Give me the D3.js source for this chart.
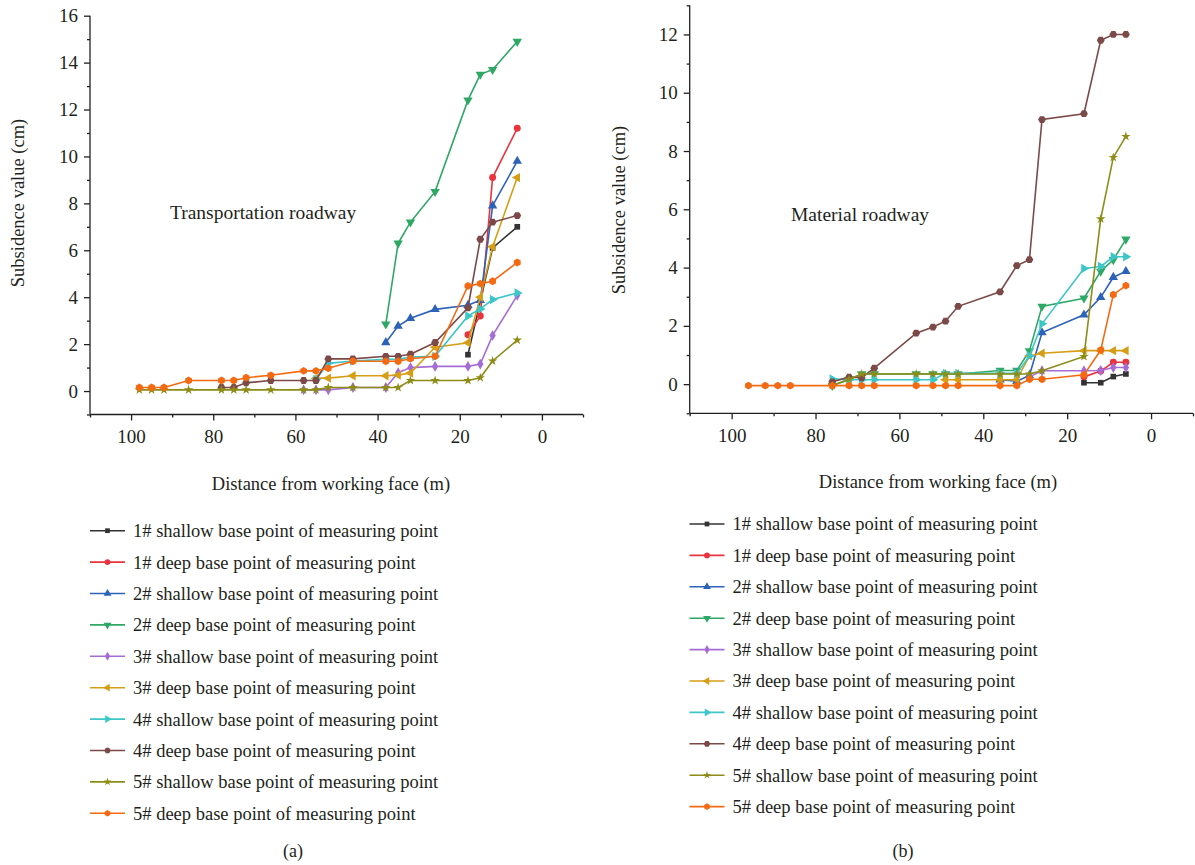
<!DOCTYPE html>
<html>
<head>
<meta charset="utf-8">
<script src="https://cdn.jsdelivr.net/npm/d3@7"></script>
<style>
  body { margin: 0; background: white; }
  text { font-family: 'Liberation Serif', 'DejaVu Serif', serif; fill: #231f20; }
</style>
</head>
<body>
<div id="vis"></div>
<script>
// series names, shared by both panels
let seriesNames = [
  '1# shallow base point of measuring point',
  '1# deep base point of measuring point',
  '2# shallow base point of measuring point',
  '2# deep base point of measuring point',
  '3# shallow base point of measuring point',
  '3# deep base point of measuring point',
  '4# shallow base point of measuring point',
  '4# deep base point of measuring point',
  '5# shallow base point of measuring point',
  '5# deep base point of measuring point'
];

let xTicks = [100, 80, 60, 40, 20, 0];
let yTicksA = [0, 2, 4, 6, 8, 10, 12, 14, 16];
let yTicksB = [0, 2, 4, 6, 8, 10, 12];

// (a) transportation roadway
let distA = [98, 95, 92, 86, 78, 75, 72, 66, 58, 55, 52, 46, 38, 35, 32, 26, 18, 15, 12, 6];
let n = null;
let a1Shallow = [n, n, n, n, n, n, n, n, n, n, n, n, n, n, n, n, 1.55, n, 6.1, 7.0];
let a1Deep    = [n, n, n, n, n, n, n, n, n, n, n, n, n, n, n, n, 2.4, 3.2, 9.1, 11.2];
let a2Shallow = [n, n, n, n, n, n, n, n, n, n, n, n, 2.07, 2.77, 3.1, 3.48, 3.66, 3.87, 7.9, 9.8];
let a2Deep    = [n, n, n, n, n, n, n, n, n, n, n, n, 2.85, 6.3, 7.2, 8.5, 12.4, 13.5, 13.7, 14.9];
let a3Shallow = [n, n, n, n, n, n, n, n, 0.05, 0.05, 0.05, 0.15, 0.15, 0.78, 1.0, 1.05, 1.05, 1.15, 2.37, 4.08];
let a3Deep    = [n, n, n, n, n, n, n, n, n, 0.55, 0.55, 0.65, 0.65, 0.68, 0.77, 1.87, 2.06, 4.0, 6.15, 9.1];
let a4Shallow = [n, n, n, n, n, n, n, n, n, 0.5, 1.18, 1.28, 1.35, 1.35, 1.45, 1.48, 3.2, 3.5, 3.9, 4.18];
let a4Deep    = [n, n, n, n, 0.15, 0.15, 0.35, 0.45, 0.45, 0.45, 1.37, 1.37, 1.48, 1.48, 1.57, 2.07, 3.55, 6.47, 7.2, 7.48];
let a5Shallow = [0.05, 0.05, 0.05, 0.05, 0.05, 0.05, 0.05, 0.05, 0.05, 0.05, 0.15, 0.15, 0.15, 0.15, 0.45, 0.45, 0.45, 0.57, 1.28, 2.17];
let a5Deep    = [0.15, 0.15, 0.15, 0.45, 0.45, 0.45, 0.57, 0.67, 0.86, 0.86, 0.97, 1.27, 1.27, 1.27, 1.38, 1.48, 4.48, 4.58, 4.68, 5.48];

// (b) material roadway
let distB = [96, 92, 89, 86, 76, 72, 69, 66, 56, 52, 49, 46, 36, 32, 29, 26, 16, 12, 9, 6];
let b1Shallow = [n, n, n, n, n, n, n, n, n, n, n, n, n, n, n, n, 0.05, 0.05, 0.26, 0.35];
let b1Deep    = [n, n, n, n, n, n, n, n, n, n, n, n, n, n, n, n, 0.25, 0.45, 0.75, 0.75];
let b2Shallow = [n, n, n, n, n, n, n, n, n, n, n, n, 0.15, 0.1, 0.3, 1.77, 2.38, 2.98, 3.67, 3.87];
let b2Deep    = [n, n, n, n, -0.05, 0.15, 0.35, 0.35, 0.35, 0.35, 0.35, 0.35, 0.47, 0.47, 1.14, 2.67, 2.95, 3.87, 4.27, 4.97];
let b3Shallow = [n, n, n, n, n, n, n, n, n, n, n, n, n, n, 0.25, 0.46, 0.46, 0.47, 0.57, 0.57];
let b3Deep    = [n, n, n, n, n, n, n, n, n, n, 0.15, 0.15, 0.15, 0.15, 0.97, 1.06, 1.15, 1.15, 1.15, 1.15];
let b4Shallow = [n, n, n, n, 0.18, 0.15, 0.15, 0.15, 0.15, 0.15, 0.37, 0.37, 0.37, 0.37, 0.97, 2.07, 3.97, 4.04, 4.37, 4.37];
let b4Deep    = [n, n, n, n, 0.08, 0.24, 0.22, 0.55, 1.75, 1.96, 2.16, 2.67, 3.17, 4.07, 4.27, 9.08, 9.28, 11.8, 12.0, 12.0];
let b5Shallow = [n, n, n, n, -0.05, 0.17, 0.35, 0.35, 0.35, 0.35, 0.35, 0.35, 0.35, 0.35, 0.35, 0.46, 0.95, 5.67, 7.78, 8.5];
let b5Deep    = [-0.05, -0.05, -0.05, -0.05, -0.05, -0.05, -0.05, -0.05, -0.05, -0.05, -0.05, -0.05, -0.05, -0.05, 0.17, 0.17, 0.32, 1.17, 3.07, 3.38];

let colors = ['#333333', '#e8353d', '#2c62b8', '#2fa866', '#a66cd6', '#d59e16', '#3dc6c8', '#7b4a48', '#8c8c17', '#f46a12'];

// polygon symbol for hexagon markers
function polygonSymbol(sides, rot) {
  return {
    draw(ctx, size) {
      let r = Math.sqrt(size / (sides / 2 * Math.sin(2 * Math.PI / sides)));
      for (let i = 0; i < sides; i++) {
        let a = rot + i * 2 * Math.PI / sides;
        if (i === 0) ctx.moveTo(r * Math.sin(a), -r * Math.cos(a));
        else ctx.lineTo(r * Math.sin(a), -r * Math.cos(a));
      }
      ctx.closePath();
    }
  };
}

// marker type + rotation for each series
let markers = [
  { type: d3.symbolSquare, rot: 0, size: 32 },
  { type: d3.symbolCircle, rot: 0, size: 38 },
  { type: d3.symbolTriangle, rot: 0, size: 38 },
  { type: d3.symbolTriangle, rot: 180, size: 38 },
  { type: d3.symbolDiamond, rot: 0, size: 34 },
  { type: d3.symbolTriangle, rot: -90, size: 38 },
  { type: d3.symbolTriangle, rot: 90, size: 38 },
  { type: polygonSymbol(6, Math.PI / 6), rot: 0, size: 40 },
  { type: d3.symbolStar, rot: 0, size: 28 },
  { type: polygonSymbol(6, 0), rot: 0, size: 40 }
];

let svg = d3.select('#vis')
  .append('svg')
  .attr('width', 1195)
  .attr('height', 865)
  .style('background-color', 'white');

function drawPanel(cfg) {
  let g = svg.append('g');

  let x = d3.scaleLinear().domain([110, -10]).range([cfg.left, cfg.right]);
  let y = d3.scaleLinear().domain(cfg.yDomain).range([cfg.bottom, cfg.top]);

  // x axis: major labelled ticks + minor ticks
  let xAxis = g.append('g').attr('transform', `translate(0,${cfg.bottom})`);
  xAxis.call(d3.axisBottom(x).tickValues(xTicks).tickSize(6).tickPadding(9).tickFormat(d3.format('d')));
  xAxis.append('g').call(d3.axisBottom(x).tickValues([110, 90, 70, 50, 30, 10, -10]).tickSize(3).tickFormat(''))
    .select('.domain').remove();
  xAxis.select('.domain').attr('d', `M${cfg.left},0H${cfg.right}`);

  // y axis
  let minorY = d3.range(cfg.yDomain[0], cfg.yDomain[1] + 1).filter(v => Math.abs(v % 2) === 1);
  let yAxis = g.append('g').attr('transform', `translate(${cfg.left},0)`);
  yAxis.call(d3.axisLeft(y).tickValues(cfg.yTicks).tickSize(6).tickPadding(6).tickFormat(d3.format('d')));
  yAxis.append('g').call(d3.axisLeft(y).tickValues(minorY).tickSize(3).tickFormat(''))
    .select('.domain').remove();
  yAxis.select('.domain').attr('d', `M0,${cfg.bottom}V${cfg.top}`);

  g.selectAll('.domain, .tick line').attr('stroke', '#231f20').attr('stroke-width', 1.3);
  g.selectAll('.tick text').style('font-size', '19px').style('font-family', "'Liberation Serif', serif").attr('fill', '#231f20');

  // axis titles
  g.append('text')
    .attr('x', cfg.xTitleX).attr('y', cfg.xTitleY)
    .attr('text-anchor', 'middle')
    .style('font-size', '18.5px')
    .text('Distance from working face (m)');
  g.append('text')
    .attr('transform', `translate(${cfg.yTitleX},${cfg.yTitleY}) rotate(-90)`)
    .attr('text-anchor', 'middle')
    .style('font-size', '18.5px')
    .text('Subsidence value (cm)');

  // panel annotation
  g.append('text')
    .attr('x', cfg.noteX).attr('y', cfg.noteY)
    .style('font-size', '19.5px')
    .text(cfg.note);

  // lines and markers
  let line = d3.line().x(d => x(d[0])).y(d => y(d[1]));
  cfg.series.forEach((vals, i) => {
    let pts = cfg.dist.map((d, j) => [d, vals[j]]).filter(p => p[1] !== null);
    g.append('path')
      .datum(pts)
      .attr('d', line)
      .attr('fill', 'none')
      .attr('stroke', colors[i])
      .attr('stroke-width', 1.6);
    let m = markers[i];
    g.append('g').selectAll('path')
      .data(pts)
      .join('path')
      .attr('d', d3.symbol().type(m.type).size(m.size))
      .attr('transform', d => `translate(${x(d[0])},${y(d[1])}) rotate(${m.rot})`)
      .attr('fill', colors[i]);
  });

  // legend
  let leg = g.append('g');
  seriesNames.forEach((name, i) => {
    let ly = cfg.legendY + i * 31.4;
    leg.append('line')
      .attr('x1', cfg.legendX).attr('x2', cfg.legendX + 35)
      .attr('y1', ly).attr('y2', ly)
      .attr('stroke', colors[i]).attr('stroke-width', 1.6);
    let m = markers[i];
    leg.append('path')
      .attr('d', d3.symbol().type(m.type).size(m.size * 0.7))
      .attr('transform', `translate(${cfg.legendX + 17.5},${ly}) rotate(${m.rot})`)
      .attr('fill', colors[i]);
    leg.append('text')
      .attr('x', cfg.legendX + 43).attr('y', ly)
      .attr('dy', '0.35em')
      .style('font-size', '18.5px')
      .text(name);
  });

  // caption
  g.append('text')
    .attr('x', cfg.capX).attr('y', 857)
    .attr('text-anchor', 'middle')
    .style('font-size', '18px')
    .text(cfg.caption);
}

drawPanel({
  left: 90, right: 583, top: 15.7, bottom: 414.5, yDomain: [-1, 16], yTicks: yTicksA,
  dist: distA,
  series: [a1Shallow, a1Deep, a2Shallow, a2Deep, a3Shallow, a3Deep, a4Shallow, a4Deep, a5Shallow, a5Deep],
  xTitleX: 331, xTitleY: 490, yTitleX: 24, yTitleY: 203,
  note: 'Transportation roadway', noteX: 170, noteY: 219,
  legendX: 90, legendY: 530.7, capX: 293, caption: '(a)'
});

drawPanel({
  left: 689.7, right: 1193, top: 5.3, bottom: 413.3, yDomain: [-1, 13], yTicks: yTicksB,
  dist: distB,
  series: [b1Shallow, b1Deep, b2Shallow, b2Deep, b3Shallow, b3Deep, b4Shallow, b4Deep, b5Shallow, b5Deep],
  xTitleX: 938, xTitleY: 488, yTitleX: 625, yTitleY: 210,
  note: 'Material roadway', noteX: 791, noteY: 221,
  legendX: 689.5, legendY: 524, capX: 903, caption: '(b)'
});
</script>
</body>
</html>
